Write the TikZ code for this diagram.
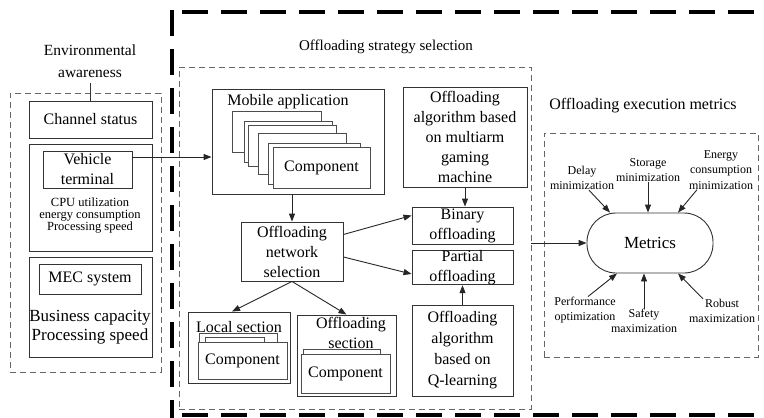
\documentclass[tikz,border=0pt]{standalone}
\usepackage{fontspec}
\setmainfont{Liberation Serif}
\usetikzlibrary{arrows.meta,calc}
\newcommand\fsz[2]{\fontsize{#1}{#2}\selectfont}
\tikzset{
  bx/.style={draw=black!80, line width=0.9pt, fill=white, inner sep=0pt, align=center, font=\fsz{16}{20}},
  card/.style={bx, draw=black!70},
  dbox/.style={draw=black!60, line width=0.9pt, dash pattern=on 6pt off 4pt, inner sep=0pt},
  arr/.style={draw=black!85, line width=0.9pt, -{Triangle[length=8pt,width=6pt]}},
  txt/.style={inner sep=0pt, align=center},
  lbl/.style={txt, font=\fsz{12}{15.5}},
  frame/.style={line width=4pt, dash pattern=on 26pt off 13pt, black},
}
\begin{document}
\begin{tikzpicture}[x=1pt,y=-1pt]
\useasboundingbox (0,0) rectangle (764,418);

% thick outer frame, running off the page to the right
\begin{scope}
  \clip (0,0) rectangle (764,418);
  \draw[frame] (182,12) -- (800,12);
  \draw[frame] (172,10) -- (172,430);
  \draw[frame] (182,415) -- (800,415);
\end{scope}

% ---------------- environmental awareness ----------------
\node[txt, font=\fsz{15.5}{22}] (envt) at (90,61) {Environmental\\awareness};
\node[dbox, minimum width=151pt, minimum height=279pt] (envbox) at (85.5,232.5) {};
\node[bx, minimum width=123pt, minimum height=37pt] (chan) at (90.5,119.5) {Channel status};
\draw[draw=black!80, line width=0.9pt] (envt.south |- 0,83) -- (envt.south |- chan.north);

\node[bx, minimum width=123pt, minimum height=107pt] (vout) at (90.5,197.5) {};
\node[bx, minimum width=89pt, minimum height=37pt] (vin) at (87.5,169.5) {Vehicle\\terminal};
\node[txt, font=\fsz{12.5}{12}] (vtxt) at (90,216) {CPU utilization\\energy consumption\\Processing speed};

\node[bx, minimum width=123pt, minimum height=100pt] (mout) at (90.5,307) {};
\node[bx, minimum width=102pt, minimum height=30pt] (mec) at (90,279) {MEC system};
\node[txt, font=\fsz{17}{19}] (mtxt) at (90,327) {Business capacity\\Processing speed};

% ---------------- offloading strategy selection ----------------
\node[txt, font=\fsz{15}{18}] (strt) at (386,47) {Offloading strategy selection};
\node[dbox, minimum width=352pt, minimum height=342pt] (inner) at (355,238) {};

\node[bx, minimum width=172pt, minimum height=105pt] (mob) at (298,141.5) {};
\node[txt, font=\fsz{16}{20}] (mobt) at (288,102) {Mobile application};
\node[card, minimum width=89pt, minimum height=41pt] (c1) at (276.5,131.5) {};
\node[card, minimum width=88pt, minimum height=41pt] (c2) at (288,141.5) {};
\node[card, minimum width=88pt, minimum height=41pt] (c3) at (292,145.5) {};
\node[card, minimum width=88pt, minimum height=41pt] (c4) at (302,153.5) {};
\node[card, minimum width=92pt, minimum height=41pt] (c5) at (314,163.5) {};
\node[card, minimum width=97pt, minimum height=41pt] (c6) at (321.5,167.5) {Component};

\node[bx, minimum width=102pt, minimum height=59pt] (net) at (292,251.5) {Offloading\\network\\selection};

\node[bx, minimum width=102pt, minimum height=71pt] (loc) at (239,347.5) {};
\node[txt, font=\fsz{16}{20}] (loct) at (239,327) {Local section};
\node[card, minimum width=78pt, minimum height=26pt] (lb1) at (238,346) {};
\node[card, minimum width=59pt, minimum height=22pt] (lb2) at (234.5,348) {};
\node[card, minimum width=89pt, minimum height=37pt] (lf) at (242.5,360.5) {Component};

\node[bx, minimum width=99pt, minimum height=81pt] (off) at (346.5,355.5) {};
\node[txt, font=\fsz{16}{20}] (offt) at (351,333) {Offloading\\section};
\node[card, minimum width=77pt, minimum height=22pt] (ob1) at (341.5,360) {};
\node[card, minimum width=89pt, minimum height=39pt] (of) at (345.5,373.5) {Component};

\node[bx, minimum width=124pt, minimum height=100pt] (multi) at (465,137)
  {Offloading\\algorithm based\\on multiarm\\gaming\\machine};
\node[bx, minimum width=101pt, minimum height=37pt] (bin) at (462.5,225.5) {Binary\\offloading};
\node[bx, minimum width=101pt, minimum height=33pt] (part) at (462.5,267.5) {Partial\\offloading};
\node[bx, font=\fsz{16}{21}, minimum width=101pt, minimum height=91pt] (ql) at (462.5,350.5)
  {Offloading\\algorithm\\based on\\Q-learning};

% ---------------- offloading execution metrics ----------------
\node[txt, font=\fsz{16}{18}] (mett) at (643,106) {Offloading execution metrics};
\node[dbox, minimum width=214pt, minimum height=224pt] (metbox) at (651,245) {};
\node[draw=black!80, line width=0.9pt, fill=white, rounded corners=29pt, inner sep=0pt,
      minimum width=126pt, minimum height=60pt, font=\fsz{17}{20}] (met) at (650,243) {Metrics};

\node[lbl] (delay) at (582,178) {Delay\\minimization};
\node[lbl] (stor) at (648,170) {Storage\\minimization};
\node[lbl] (ener) at (721,170) {Energy\\consumption\\minimization};
\node[lbl] (perf) at (585,310) {Performance\\optimization};
\node[lbl] (safe) at (644,321) {Safety\\maximization};
\node[lbl] (rob) at (722,311) {Robust\\maximization};

% ---------------- connectors ----------------
\draw[arr] ([yshift=12.5pt]vin.east) -- ([yshift=12.5pt]vin.east -| mob.west);
\draw[arr] (net.north |- mob.south) -- (net.north);
\draw[arr] (net.south) -- ([xshift=-7pt]loc.north);
\draw[arr] (net.south) -- (off.north);
\draw[arr] ([yshift=17pt]net.east) -- ([yshift=10pt]bin.west);
\draw[arr] ([yshift=-5.5pt]net.east) -- ([yshift=-6.5pt]part.west);
\draw[arr] (multi.south) -- (multi.south |- bin.north);
\draw[arr] (ql.north) -- (ql.north |- part.south);
\draw[arr] (inner.east |- met.west) -- (met.west);

\draw[arr] ([xshift=7pt]delay.south) -- ([xshift=-40pt]met.north);
\draw[arr] (stor.south) -- (stor.south |- met.north);
\draw[arr] ([xshift=-24pt]ener.south) -- ([xshift=28pt]met.north);
\draw[arr] ([xshift=3pt]perf.north) -- ([xshift=-33pt]met.south);
\draw[arr] (safe.north) -- (safe.north |- met.south);
\draw[arr] ([xshift=-19pt]rob.north) -- ([xshift=28pt]met.south);
\end{tikzpicture}
\end{document}
